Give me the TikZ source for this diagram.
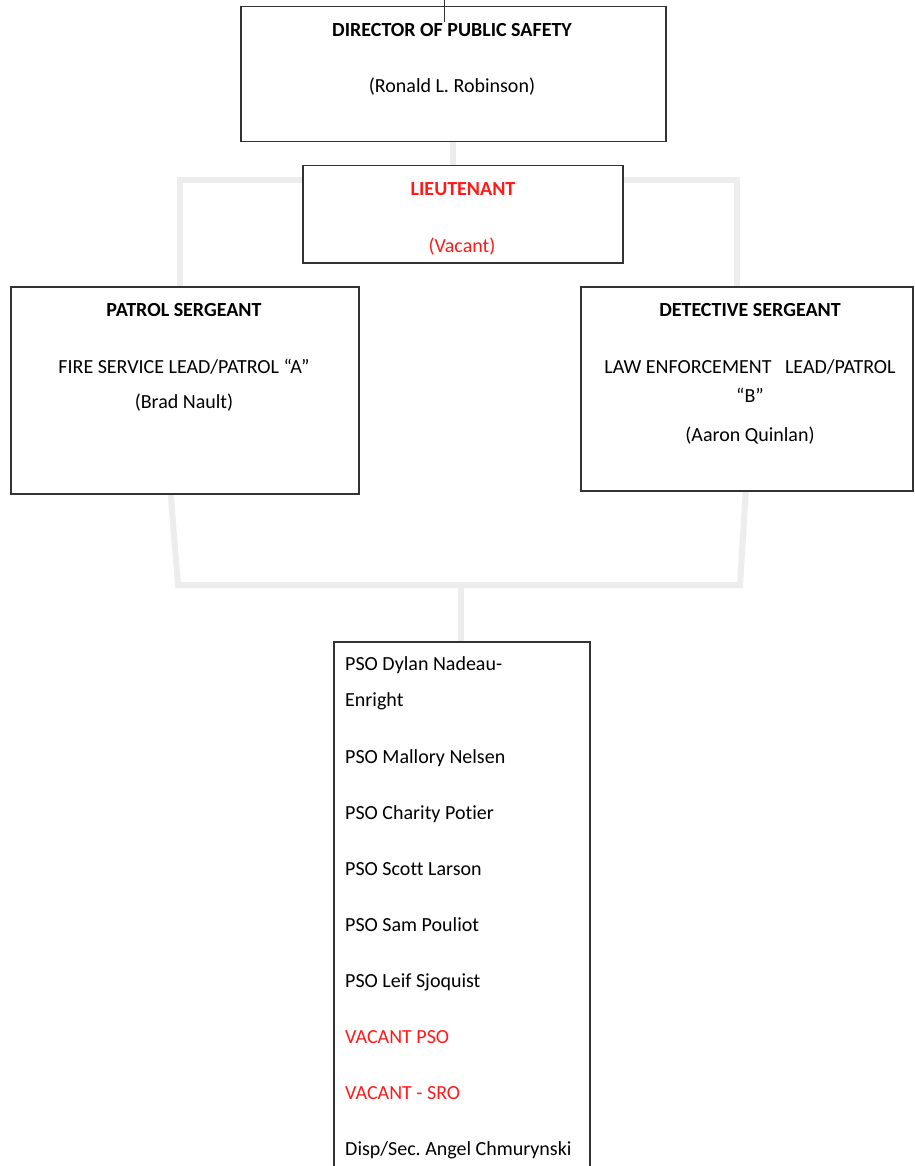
\documentclass[tikz,border=0pt]{standalone}
\usepackage{fontspec}
\setmainfont{Carlito}[Ligatures=NoCommon]
\usetikzlibrary{backgrounds}
\frenchspacing
\definecolor{boxline}{HTML}{333333}
\definecolor{conn}{HTML}{EDEDED}
\definecolor{vred}{HTML}{FF1A1A}
\tikzset{
  orgbox/.style={draw=boxline,line width=1.5pt,fill=white,inner sep=0pt,anchor=north west},
  txt/.style={inner sep=0pt,anchor=base,font=\fontsize{20}{24}\selectfont},
  ltxt/.style={inner sep=0pt,anchor=base west,font=\fontsize{20}{24}\selectfont},
  bold/.style={font=\fontsize{20}{24}\selectfont\bfseries},
  redtxt/.style={text=vred},
  connector/.style={draw=conn,line width=6pt},
  tick/.style={draw=boxline,line width=1pt}
}
\begin{document}
\begin{tikzpicture}[x=1pt,y=-1pt]
\useasboundingbox (0,0) rectangle (914,1166);
% junction coordinates
\coordinate (tm) at (453,180);
\coordinate (tl) at (180,180);
\coordinate (tr) at (737,180);
\coordinate (bl) at (178,585);
\coordinate (br) at (740,585);
\coordinate (bm) at (461,585);
\coordinate (tickTop) at (444,0);
\coordinate (tickBot) at (444,22);
% boxes
\node[orgbox,minimum width=425pt,minimum height=135pt] (dir) at (240,6) {};
\node[orgbox,minimum width=320pt,minimum height=97pt] (lt) at (302,165) {};
\node[orgbox,minimum width=348pt,minimum height=207pt] (pat) at (10,286) {};
\node[orgbox,minimum width=332pt,minimum height=204pt] (det) at (580,286) {};
\node[orgbox,minimum width=256pt,minimum height=540pt] (pso) at (333,641) {};
\draw[tick] (tickTop) -- (tickBot);
% connectors behind the boxes
\begin{scope}[on background layer]
\fill[white] (0,0) rectangle (914,1166);
\draw[connector] (dir.south -| tm) -- (tm);
\draw[connector] (pat.north -| tl) -- (tl) -- (tr) -- (det.north -| tr);
\draw[connector] ([xshift=-14pt]pat.south) -- (bl) -- (br) -- ([xshift=-1pt]det.south);
\draw[connector] (bm) -- (pso.north -| bm);
\end{scope}
% director
\node[txt,bold] (dirT) at (452,37) {DIRECTOR OF PUBLIC SAFETY};
\node[txt] (dirN) at (452,93) {(Ronald L. Robinson)};
% lieutenant
\node[txt,bold,redtxt] (ltT) at (463,196) {LIEUTENANT};
\node[txt,redtxt] (ltN) at (462,252) {(Vacant)};
% patrol sergeant
\node[txt,bold] (patT) at (184,316) {PATROL SERGEANT};
\node[txt] (patR) at (184,373) {FIRE SERVICE LEAD/PATROL “A”};
\node[txt] (patN) at (184,408) {(Brad Nault)};
% detective sergeant
\node[txt,bold] (detT) at (750,316) {DETECTIVE SERGEANT};
\node[txt] (detR) at (750,373) {LAW ENFORCEMENT\ \ \ LEAD/PATROL};
\node[txt] (detR2) at (750,402) {“B”};
\node[txt] (detN) at (750,441) {(Aaron Quinlan)};
% PSO list
\node[ltxt] (p1) at (345,670) {PSO Dylan Nadeau-};
\node[ltxt] (p1b) at (345,706) {Enright};
\node[ltxt] (p2) at (345,763) {PSO Mallory Nelsen};
\node[ltxt] (p3) at (345,819) {PSO Charity Potier};
\node[ltxt] (p4) at (345,875) {PSO Scott Larson};
\node[ltxt] (p5) at (345,931) {PSO Sam Pouliot};
\node[ltxt] (p6) at (345,987) {PSO Leif Sjoquist};
\node[ltxt,redtxt] (p7) at (345,1043) {VACANT PSO};
\node[ltxt,redtxt] (p8) at (345,1099) {VACANT - SRO};
\node[ltxt] (p9) at (345,1155) {Disp/Sec. Angel Chmurynski};
\end{tikzpicture}
\end{document}
